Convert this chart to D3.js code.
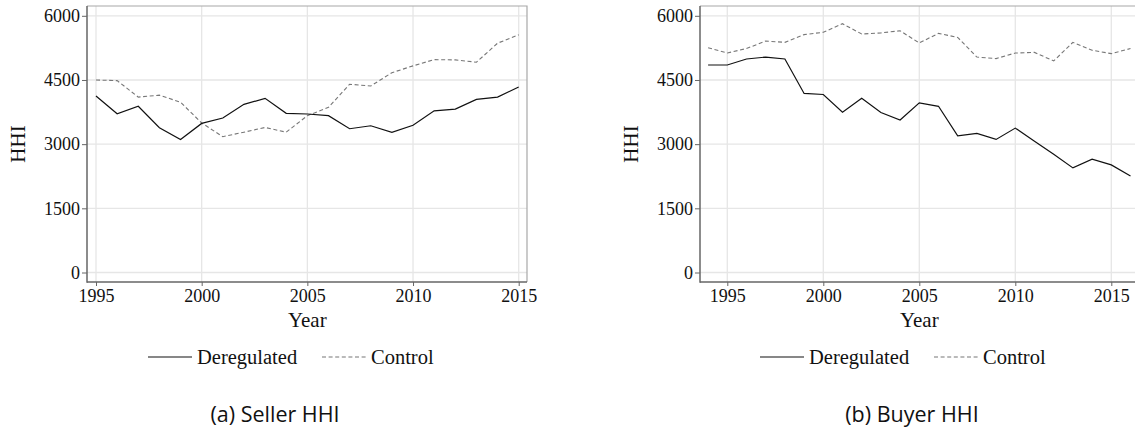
<!DOCTYPE html>
<html>
<head>
<meta charset="utf-8">
<script src="https://cdn.jsdelivr.net/npm/d3@7"></script>
<style>
  body { margin: 0; background: #fff; }
  svg { display: block; }
</style>
</head>
<body>
<div id="chart"></div>
<script>
// Seller HHI, 1995-2015
const sellerYears = d3.range(1995, 2016);
const sellerDereg = [4125, 3710, 3885, 3385, 3110, 3485, 3610, 3930, 4070, 3720, 3705,
                     3665, 3360, 3430, 3275, 3440, 3780, 3820, 4045, 4100, 4335];
const sellerControl = [4500, 4485, 4100, 4145, 3980, 3495, 3175, 3280, 3390, 3280, 3665,
                       3860, 4400, 4360, 4670, 4830, 4975, 4970, 4915, 5360, 5555];

// Buyer HHI, 1994-2016
const buyerYears = d3.range(1994, 2017);
const buyerDereg = [4850, 4850, 4990, 5035, 4990, 4185, 4160, 3745, 4075, 3740, 3565, 3965,
                    3885, 3195, 3250, 3110, 3375, 3070, 2765, 2445, 2650, 2515, 2255];
const buyerControl = [5255, 5130, 5235, 5410, 5380, 5560, 5615, 5815, 5575, 5600, 5650, 5365,
                      5590, 5495, 5035, 5000, 5130, 5145, 4945, 5380, 5195, 5115, 5235];

const yTicks = [0, 1500, 3000, 4500, 6000];
const xTicks = [1995, 2000, 2005, 2010, 2015];
const seriesNames = ["Deregulated", "Control"];
const captions = ["(a) Seller HHI", "(b) Buyer HHI"];

const serif = "Liberation Serif, Times New Roman, serif";

const svg = d3.select("#chart").append("svg")
    .attr("width", 1135)
    .attr("height", 435);

/**
 * drawPanel
 *
 * Purpose: draws one framed line panel with its axes, legend and caption.
 */
function drawPanel(p, years, dereg, control, caption){
    const xScale = d3.scaleLinear().domain([1995, 2015]).range([p.x1995, p.x2015]);
    const yScale = d3.scaleLinear().domain([0, 6000]).range([272.5, 15.8]);

    const g = svg.append("g");

    // gridlines
    g.append("g").selectAll("line")
        .data(yTicks)
        .enter().append("line")
        .attr("x1", p.left).attr("x2", p.right)
        .attr("y1", d => yScale(d)).attr("y2", d => yScale(d))
        .attr("stroke", "#e6e6e6").attr("stroke-width", 1.3);
    g.append("g").selectAll("line")
        .data(xTicks)
        .enter().append("line")
        .attr("x1", d => xScale(d)).attr("x2", d => xScale(d))
        .attr("y1", p.top).attr("y2", p.bottom)
        .attr("stroke", "#e6e6e6").attr("stroke-width", 1.3);

    // top and right border
    g.append("path")
        .attr("d", `M${p.left},${p.top}H${p.right}V${p.bottom}`)
        .attr("fill", "none").attr("stroke", "#a8a8a8").attr("stroke-width", 1.2);

    // data lines
    const line = d3.line()
        .x((d, i) => xScale(years[i]))
        .y(d => yScale(d));

    g.append("path")
        .datum(control)
        .attr("fill", "none")
        .attr("stroke", "#777")
        .attr("stroke-width", 1.1)
        .attr("stroke-dasharray", "4,2.6")
        .attr("d", line);
    g.append("path")
        .datum(dereg)
        .attr("fill", "none")
        .attr("stroke", "#111")
        .attr("stroke-width", 1.2)
        .attr("d", line);

    // axes
    const yAxis = g.append("g")
        .attr("transform", "translate(" + p.left + ",0)")
        .call(d3.axisLeft(yScale).tickValues(yTicks).tickFormat(d3.format("d")).tickSize(5).tickPadding(2));
    const xAxis = g.append("g")
        .attr("transform", "translate(0," + p.bottom + ")")
        .call(d3.axisBottom(xScale).tickValues(xTicks).tickFormat(d3.format("d")).tickSize(4).tickPadding(3));

    [yAxis, xAxis].forEach(ax => {
        ax.attr("font-family", serif).attr("font-size", 18);
        ax.select(".domain").remove();
        ax.selectAll(".tick line").attr("stroke", "#666");
        ax.selectAll(".tick text").attr("fill", "#111");
    });

    g.append("line")
        .attr("x1", p.left).attr("x2", p.left)
        .attr("y1", p.top).attr("y2", p.bottom + 0.7)
        .attr("stroke", "#666").attr("stroke-width", 1.5);
    g.append("line")
        .attr("x1", p.left).attr("x2", p.right)
        .attr("y1", p.bottom).attr("y2", p.bottom)
        .attr("stroke", "#666").attr("stroke-width", 1.5);

    // axis titles
    g.append("text")
        .attr("transform", "rotate(-90)")
        .attr("x", -(p.top + p.bottom) / 2)
        .attr("y", p.left - 62)
        .attr("text-anchor", "middle")
        .attr("font-family", serif)
        .attr("font-size", "21px")
        .attr("fill", "#111")
        .text("HHI");
    g.append("text")
        .attr("x", xScale(2005))
        .attr("y", 327)
        .attr("text-anchor", "middle")
        .attr("font-family", serif)
        .attr("font-size", "21px")
        .attr("fill", "#111")
        .text("Year");

    // legend
    const lg = g.append("g").attr("transform", "translate(" + p.legendX + ",357)");
    lg.append("line").attr("x1", 0).attr("x2", 44).attr("stroke", "#111").attr("stroke-width", 1.2);
    lg.append("text").attr("x", 49).attr("y", 6.5)
        .attr("font-family", serif).attr("font-size", "20.5px").attr("fill", "#111")
        .text(seriesNames[0]);
    lg.append("line").attr("x1", 174).attr("x2", 218)
        .attr("stroke", "#777").attr("stroke-width", 1.1).attr("stroke-dasharray", "4,2.6");
    lg.append("text").attr("x", 223).attr("y", 6.5)
        .attr("font-family", serif).attr("font-size", "20.5px").attr("fill", "#111")
        .text(seriesNames[1]);

    // caption
    g.append("text")
        .attr("x", p.captionX)
        .attr("y", 422)
        .attr("text-anchor", "middle")
        .attr("font-family", "Open Sans, Noto Sans, sans-serif")
        .attr("font-size", "21.5px")
        .attr("fill", "#111")
        .text(caption);
}

drawPanel({left: 87, right: 527, top: 6, bottom: 282, x1995: 96, x2015: 518.7, legendX: 148, captionX: 275},
          sellerYears, sellerDereg, sellerControl, captions[0]);
drawPanel({left: 700, right: 1140, top: 6, bottom: 282, x1995: 727.3, x2015: 1111.3, legendX: 760, captionX: 912},
          buyerYears, buyerDereg, buyerControl, captions[1]);
</script>
</body>
</html>
